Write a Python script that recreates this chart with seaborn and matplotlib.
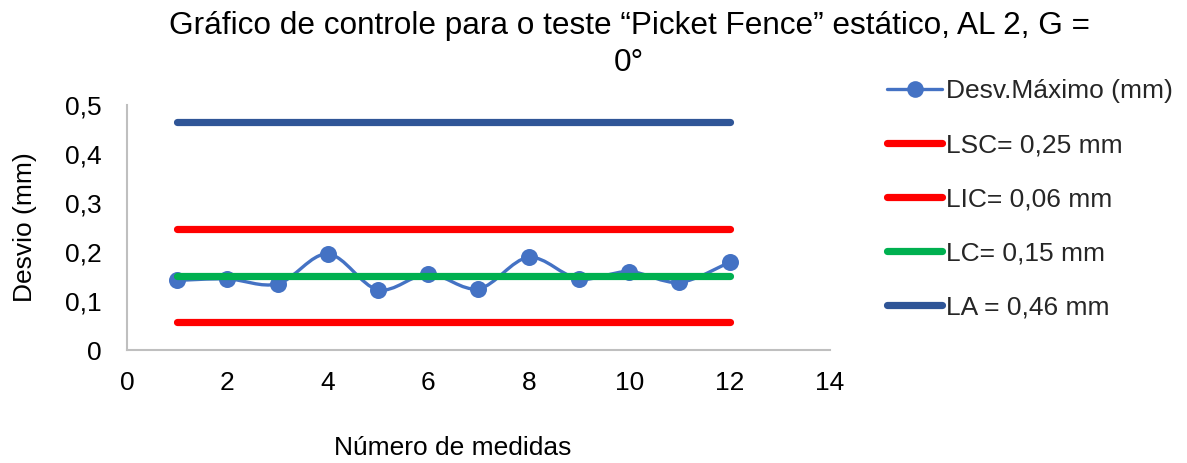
import numpy as np
import pandas as pd
import matplotlib
matplotlib.use("Agg")
import matplotlib.pyplot as plt
from matplotlib.path import Path
from matplotlib.patches import PathPatch
from matplotlib.lines import Line2D
import seaborn as sns

medidas = [1, 2, 3, 4, 5, 6, 7, 8, 9, 10, 11, 12]
desvio_max = [0.142, 0.145, 0.135, 0.196, 0.123, 0.155, 0.125, 0.189, 0.145, 0.160, 0.138, 0.179]
lsc = 0.247
lic = 0.058
lc = 0.152
la = 0.465

labels = ["Desv.Máximo (mm)", "LSC= 0,25 mm", "LIC= 0,06 mm", "LC= 0,15 mm", "LA = 0,46 mm"]
title = "Gráfico de controle para o teste “Picket Fence” estático, AL 2, G =\n0°"
xlabel = "Número de medidas"
ylabel = "Desvio (mm)"
yticklabels = ["0", "0,1", "0,2", "0,3", "0,4", "0,5"]

sns.set_theme(style="white")
plt.rcParams['font.family'] = ['Liberation Sans', 'DejaVu Sans']

FS = 19
fig = plt.figure(figsize=(11.87, 4.63), dpi=100)
ax = fig.add_axes([127/1187, 1 - 350/463, (830-127)/1187, (350-105)/463])

c_data = "#4472C4"
c_red = "#FF0000"
c_green = "#00B050"
c_blue = "#2F5597"

# limit lines
for val, col in [(lic, c_red), (la, c_blue), (lsc, c_red), (lc, c_green)]:
    d = pd.DataFrame({"x": [medidas[0], medidas[-1]], "y": [val, val]})
    sns.lineplot(data=d, x="x", y="y", ax=ax, color=col, lw=5.2,
                 solid_capstyle="round", zorder=2 if col != c_green else 4)

# smoothed data line (Bezier through the points, Excel-like smoothing)
x = np.array(medidas, float)
y = np.array(desvio_max, float)
verts = [(x[0], y[0])]
codes = [Path.MOVETO]
n = len(x)
for i in range(n - 1):
    p0 = np.array([x[max(i-1, 0)], y[max(i-1, 0)]])
    p1 = np.array([x[i], y[i]])
    p2 = np.array([x[i+1], y[i+1]])
    p3 = np.array([x[min(i+2, n-1)], y[min(i+2, n-1)]])
    c1 = p1 + (p2 - p0) / 6
    c2 = p2 - (p3 - p1) / 6
    verts += [tuple(c1), tuple(c2), tuple(p2)]
    codes += [Path.CURVE4] * 3
ax.add_patch(PathPatch(Path(verts, codes), fill=False, edgecolor=c_data, lw=2.4, zorder=3))
sns.scatterplot(x=medidas, y=desvio_max, ax=ax, color=c_data, s=150, edgecolor=c_data,
                linewidth=0, zorder=3)

ax.set_xlim(0, 14)
ax.set_ylim(0, 0.5)
ax.set_xticks(range(0, 15, 2))
ax.set_yticks([0, 0.1, 0.2, 0.3, 0.4, 0.5])
ax.set_yticklabels(yticklabels)
ax.tick_params(labelsize=FS, length=0, colors="#000000")
ax.tick_params(axis="y", pad=18)
ax.tick_params(axis="x", pad=15)
for s in ["top", "right"]:
    ax.spines[s].set_visible(False)
for s in ["left", "bottom"]:
    ax.spines[s].set_color("#BFBFBF")
    ax.spines[s].set_linewidth(1.5)
ax.grid(False)

ax.set_xlabel(xlabel, fontsize=FS, color="#000000")
ax.xaxis.set_label_coords((453-127)/(830-127), -(436-350)/(350-105))
ax.set_ylabel(ylabel, fontsize=FS, color="#000000")
ax.yaxis.set_label_coords(-(127-37)/(830-127), (350-227)/(350-105))

fig.text(629/1187, 1 - 11/463, title, ha="center", va="top", fontsize=22.7,
         linespacing=1.3, color="#000000")

handles = [
    Line2D([], [], color=c_data, lw=2.4, marker="o", markersize=12, markeredgewidth=0),
    Line2D([], [], color=c_red, lw=5.2, solid_capstyle="round"),
    Line2D([], [], color=c_red, lw=5.2, solid_capstyle="round"),
    Line2D([], [], color=c_green, lw=5.2, solid_capstyle="round"),
    Line2D([], [], color=c_blue, lw=5.2, solid_capstyle="round"),
]
fig.legend(handles, labels, loc="upper left", bbox_to_anchor=(887/1187, 1 - 79/463),
           frameon=False, fontsize=FS, handlelength=2.1, handletextpad=0.12,
           labelspacing=1.14, borderaxespad=0, borderpad=0)

fig.savefig("out.png", dpi=100)
